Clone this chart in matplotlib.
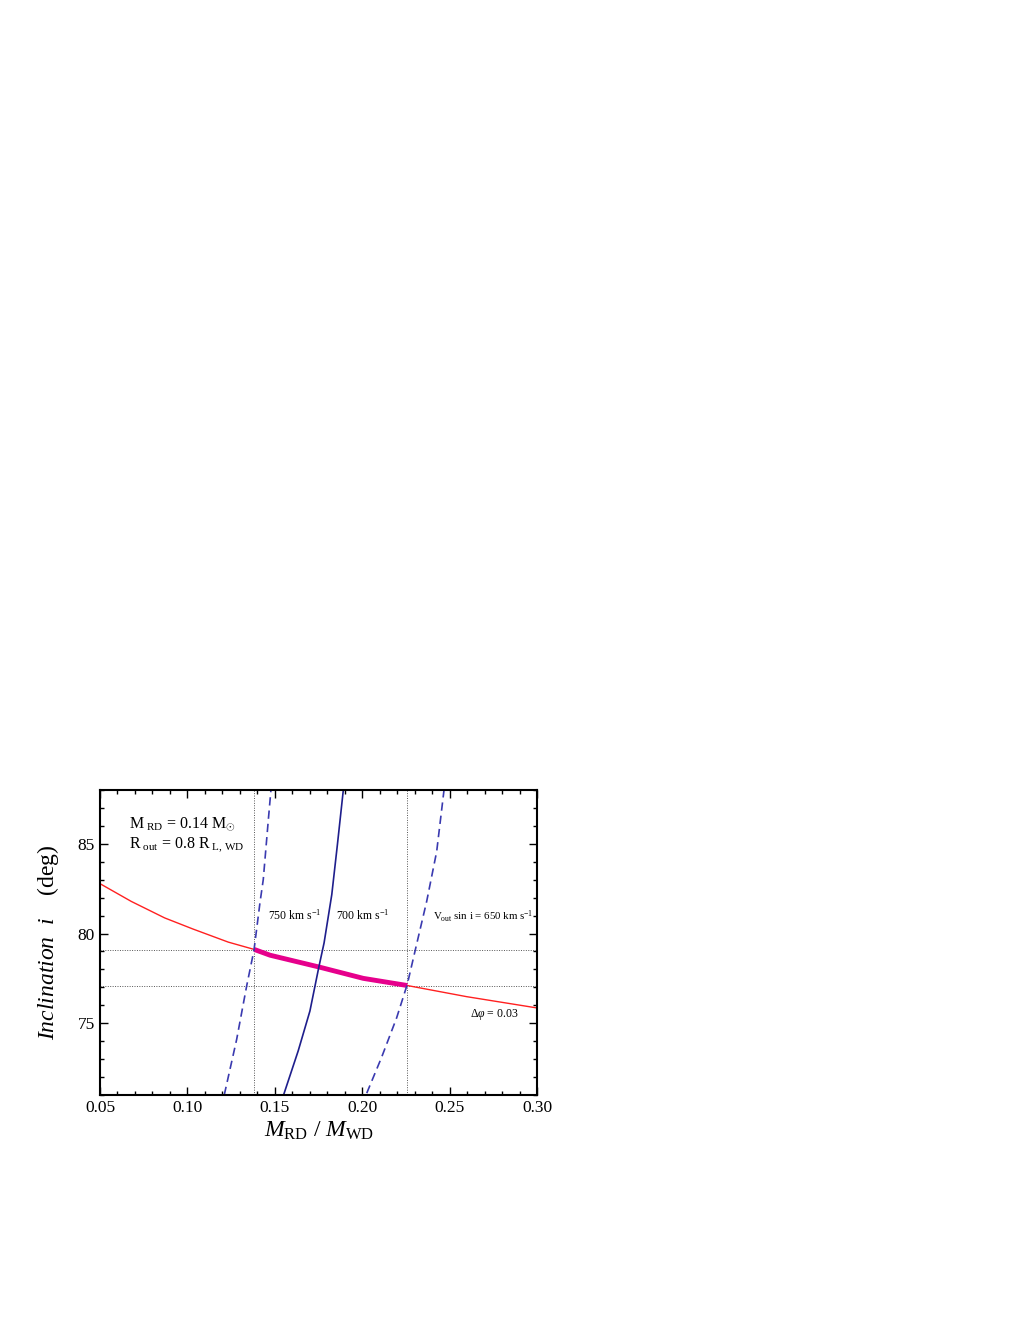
import matplotlib
matplotlib.use("Agg")
import matplotlib.pyplot as plt
from matplotlib.ticker import MultipleLocator

plt.rcParams['font.family'] = ['Liberation Serif', 'DejaVu Serif']
plt.rcParams['mathtext.fontset'] = 'custom'
plt.rcParams['mathtext.rm'] = 'Liberation Serif'
plt.rcParams['mathtext.it'] = 'Liberation Serif:italic'

# red curve, delta phi = 0.03
q_phi = [0.05, 0.0679, 0.087, 0.1032, 0.1234, 0.1383, 0.1473, 0.1754, 0.2006, 0.2258, 0.2597, 0.30]
i_phi = [82.78, 81.79, 80.87, 80.25, 79.52, 79.11, 78.79, 78.13, 77.5, 77.1, 76.48, 75.85]

# allowed segment (thick magenta)
q_ok = [0.1383, 0.1473, 0.1754, 0.2006, 0.2258]
i_ok = [79.11, 78.79, 78.13, 77.5, 77.1]

# V_out sin i curves
q_750 = [0.1211, 0.1282, 0.1339, 0.1381, 0.1415, 0.1434, 0.1463, 0.1478]
i_750 = [71, 74.1, 77.07, 79.07, 81.7, 83.0, 86.33, 88]
q_700 = [0.1552, 0.1634, 0.1701, 0.1752, 0.1782, 0.1826, 0.1858, 0.1892]
i_700 = [71.05, 73.46, 75.68, 78.13, 79.48, 82.17, 84.94, 88]
q_650 = [0.2026, 0.2111, 0.2197, 0.2258, 0.2311, 0.2369, 0.2426, 0.2468]
i_650 = [71.1, 73.1, 75.3, 77.17, 79.39, 81.8, 84.57, 88]

# limits marked by dotted lines
q_lims = [0.138, 0.2254]
i_lims = [79.1, 77.06]

fig = plt.figure(figsize=(10.2, 13.2), dpi=100)
ax = fig.add_axes([0.098, 0.1705, 0.4285, 0.231])

for q in q_lims:
    ax.axvline(q, color='#555555', lw=0.7, ls=(0, (1, 1.5)))
for i in i_lims:
    ax.axhline(i, color='#555555', lw=0.7, ls=(0, (1, 1.5)))

ax.plot(q_phi, i_phi, color='#ff2020', lw=1.0)
ax.plot(q_ok, i_ok, color='#e6008c', lw=3.5, solid_capstyle='butt')
ax.plot(q_750, i_750, color='#3a3ab0', lw=1.2, ls=(0, (5, 3)))
ax.plot(q_700, i_700, color='#1e1e8c', lw=1.2)
ax.plot(q_650, i_650, color='#3a3ab0', lw=1.2, ls=(0, (5, 3)))

ax.set_xlim(0.05, 0.30)
ax.set_ylim(71, 88)
ax.xaxis.set_major_locator(MultipleLocator(0.05))
ax.xaxis.set_minor_locator(MultipleLocator(0.01))
ax.yaxis.set_major_locator(MultipleLocator(5))
ax.yaxis.set_minor_locator(MultipleLocator(1))
ax.xaxis.set_major_formatter(plt.FuncFormatter(lambda v, p: f"{v:.2f}"))
ax.tick_params(which='both', direction='in', top=True, right=True, labelsize=12.5, width=1.0)
ax.tick_params(which='major', length=6)
ax.tick_params(which='minor', length=3)
for s in ax.spines.values():
    s.set_linewidth(1.5)

ax.set_xlabel(r'$M_{\mathrm{RD}}\ /\ M_{\mathrm{WD}}$', fontsize=17, labelpad=3)
ax.set_ylabel(r'$Inclination\ \ i\ \ \ \ \mathrm{(deg)}$', fontsize=17, labelpad=12)

ax.text(0.0665, 85.9, r'M$_{\ \mathrm{RD}}$ = 0.14 M$_{\odot}$', fontsize=11.5)
ax.text(0.0665, 84.75, r'R$_{\ \mathrm{out}}$ = 0.8 R$_{\ \mathrm{L,\,WD}}$', fontsize=11.5)
ax.text(0.146, 80.75, r'750 km s$^{-1}$', fontsize=8.5)
ax.text(0.185, 80.75, r'700 km s$^{-1}$', fontsize=8.5)
ax.text(0.2405, 80.75, r'V$_{\mathrm{out}}$ sin i = 650 km s$^{-1}$', fontsize=7.8)
ax.text(0.2615, 75.35, r'$\Delta\varphi$ = 0.03', fontsize=8.5)

fig.savefig('out.png', dpi=100)
